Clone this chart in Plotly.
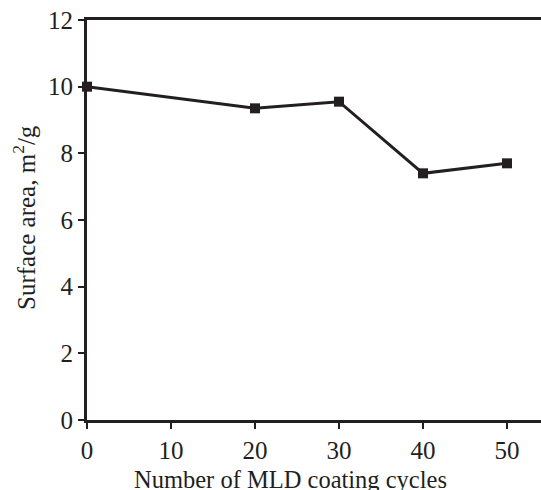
import plotly.graph_objects as go

cycles = [0, 20, 30, 40, 50]
surface_area = [10.0, 9.35, 9.55, 7.4, 7.7]
x_ticks = [0, 10, 20, 30, 40, 50]
y_ticks = [0, 2, 4, 6, 8, 10, 12]
x_title = "Number of MLD coating cycles"
y_title = "Surface area, m<sup>2</sup>/g"

ink = "#231f20"
serif = "Liberation Serif, Times New Roman, serif"
tick_font = dict(family=serif, size=25, color=ink)

fig = go.Figure(go.Scatter(
    x=cycles, y=surface_area, mode="lines+markers",
    line=dict(color=ink, width=3),
    marker=dict(symbol="square", size=10, color=ink),
    cliponaxis=False,
))

fig.update_layout(
    width=541, height=490,
    margin=dict(l=87, r=0, t=20, b=70),
    paper_bgcolor="white", plot_bgcolor="white",
    font=dict(family=serif, size=22, color=ink), showlegend=False,
)
fig.update_xaxes(
    range=[0, 54.05], tickvals=x_ticks, ticks="outside", ticklen=6, tickwidth=2,
    tickcolor=ink, tickfont=tick_font, showline=True, linecolor=ink, linewidth=3,
    mirror=True, showgrid=False, zeroline=False, automargin=False,
)
fig.update_yaxes(
    range=[0, 12], tickvals=y_ticks, ticks="outside", ticklen=6, tickwidth=2,
    tickcolor=ink, tickfont=tick_font, showline=True, linecolor=ink, linewidth=3,
    showgrid=False, zeroline=False, automargin=False,
)
fig.add_annotation(
    text=x_title, font=dict(family=serif, size=24.5, color=ink), showarrow=False,
    xref="paper", yref="paper", x=(290 - 87) / 454, y=(420 - 479) / 400,
    xanchor="center", yanchor="middle",
)
fig.add_annotation(
    text=y_title, font=dict(family=serif, size=25, color=ink), showarrow=False,
    textangle=-90,
    xref="paper", yref="paper", x=(24 - 87) / 454, y=(420 - 218) / 400,
    xanchor="center", yanchor="middle",
)

fig.write_html(
    "out.html",
    config={"displayModeBar": False},
    post_script="document.body.style.margin='0';document.body.style.overflow='hidden';",
)
